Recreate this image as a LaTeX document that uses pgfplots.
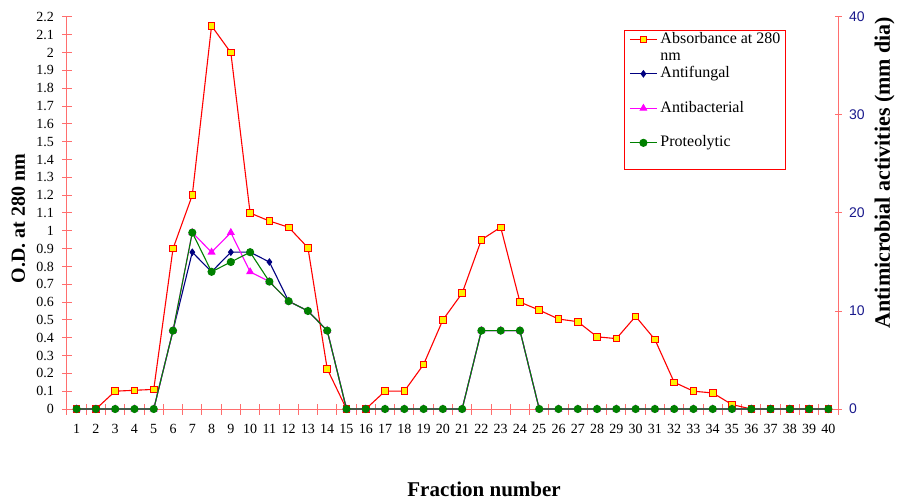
\documentclass[border=0pt]{standalone}
\usepackage{fontspec}
\setmainfont{Liberation Serif}
\newfontfamily\arialfont{Liberation Sans}
\usepackage{pgfplots}
\usepackage{pgfplotstable}
\pgfplotsset{compat=1.18}
\definecolor{axred}{RGB}{255,110,110}
\definecolor{navyb}{RGB}{0,0,128}
\definecolor{pgreen}{RGB}{0,128,0}
\definecolor{mag}{RGB}{255,0,255}
\definecolor{ticknavy}{RGB}{25,25,140}

\pgfplotstableread{
x abs fung bact prot
1 0 0 0 0
2 0 0 0 0
3 0.10 0 0 0
4 0.105 0 0 0
5 0.11 0 0 0
6 0.90 8 8 8
7 1.20 16 18 18
8 2.15 14 16 14
9 2.00 16 18 15
10 1.10 16 14 16
11 1.055 15 13 13
12 1.02 11 11 11
13 0.905 10 10 10
14 0.225 8 8 8
15 0 0 0 0
16 0 0 0 0
17 0.10 0 0 0
18 0.10 0 0 0
19 0.25 0 0 0
20 0.50 0 0 0
21 0.65 0 0 0
22 0.95 8 8 8
23 1.02 8 8 8
24 0.60 8 8 8
25 0.555 0 0 0
26 0.505 0 0 0
27 0.49 0 0 0
28 0.405 0 0 0
29 0.395 0 0 0
30 0.52 0 0 0
31 0.39 0 0 0
32 0.15 0 0 0
33 0.10 0 0 0
34 0.09 0 0 0
35 0.025 0 0 0
36 0 0 0 0
37 0 0 0 0
38 0 0 0 0
39 0 0 0 0
40 0 0 0 0
}\datatable

\pgfplotsset{
  absstyle/.style={color=red, line width=1.1pt, mark=square*, mark size=3.3pt, mark options={fill=yellow, draw=red, line width=0.9pt}},
  fungstyle/.style={color=navyb, line width=1.1pt, mark=diamond*, mark size=3pt, mark options={fill=navyb, draw=navyb}},
  bactstyle/.style={color=mag, line width=1.1pt, mark=triangle*, mark size=3.6pt, mark options={fill=mag, draw=mag}},
  protstyle/.style={color=pgreen, line width=1.1pt, mark=*, mark size=3.5pt, mark options={fill=pgreen, draw=pgreen}},
}

\begin{document}
\begin{tikzpicture}
\begin{axis}[
  name=ax1,
  scale only axis, width=771pt, height=392pt,
  xmin=0.5, xmax=40.5, ymin=0, ymax=2.2,
  axis x line=bottom, axis y line=left,
  axis line style={draw=axred, line width=1pt, -},
  every outer x axis line/.append style={-},
  every outer y axis line/.append style={-},
  xtick={1,...,40},
  xtick style={draw=none},
  minor xtick={0.5,1.5,...,40.5},
  minor x tick style={draw=axred, line width=1pt},
  minor tick length=11pt,
  ytick={0,0.1,0.2,0.3,0.4,0.5,0.6,0.7,0.8,0.9,1,1.1,1.2,1.3,1.4,1.5,1.6,1.7,1.8,1.9,2,2.1,2.2},
  y tick style={draw=axred, line width=1pt},
  major tick length=9pt,
  tick align=center,
  /pgf/number format/assume math mode=true,
  tick label style={font=\fontsize{14}{16}\selectfont},
  yticklabel style={xshift=-5pt},
  xticklabel style={yshift=-7pt},
  xlabel={Fraction number},
  xlabel style={at={(axis description cs:0.541,-0.2237)}, anchor=base, font=\bfseries\fontsize{21}{24}\selectfont},
  ylabel={O.D. at 280 nm},
  ylabel style={at={(axis description cs:-0.0545,0.486)}, anchor=base, rotate=0, font=\bfseries\fontsize{20}{24}\selectfont},
  clip=false,
]
\addplot[absstyle] table[x=x, y=abs] {\datatable};
\end{axis}
\begin{axis}[
  scale only axis, width=771pt, height=392pt,
  xmin=0.5, xmax=40.5, ymin=0, ymax=40,
  axis x line=none, axis y line=right,
  axis line style={draw=axred, line width=1pt, -},
  every outer y axis line/.append style={-},
  xtick=\empty,
  ytick={0,10,20,30,40},
  y tick style={draw=axred, line width=1pt},
  major tick length=7pt,
  tick align=center,
  /pgf/number format/assume math mode=true,
  yticklabel style={font=\arialfont\fontsize{14}{16}\selectfont, text=ticknavy, xshift=4pt},
  ylabel={Antimicrobial activities (mm dia)},
  ylabel style={at={(axis description cs:1.0674,0.603)}, anchor=base, font=\bfseries\fontsize{22}{24}\selectfont},
  clip=false,
  legend image code/.code={\draw[mark repeat=2,mark phase=2] plot coordinates {(0pt,0pt) (13.5pt,0pt) (27pt,0pt)};},
  legend cell align=left,
  legend style={at={(0.7224,0.967)}, anchor=north west, draw=red, line width=0.8pt, fill=white,
    inner xsep=5pt, inner ysep=1pt, row sep=1.25pt,
    font=\fontsize{16}{18}\selectfont,
    nodes={inner sep=0pt, text height=12pt, text depth=4pt},
    /tikz/every odd column/.append style={column sep=3pt}},
]
\addlegendimage{absstyle}
\addlegendentry{Absorbance at 280}
\addlegendimage{empty legend}
\addlegendentry{nm}
\addplot[fungstyle] table[x=x, y=fung] {\datatable};
\addlegendentry{Antifungal}
\addlegendimage{empty legend}
\addlegendentry{}
\addplot[bactstyle] table[x=x, y=bact] {\datatable};
\addlegendentry{Antibacterial}
\addlegendimage{empty legend}
\addlegendentry{}
\addplot[protstyle] table[x=x, y=prot] {\datatable};
\addlegendentry{Proteolytic}
\addlegendimage{empty legend}
\addlegendentry{}
\end{axis}
\pgfresetboundingbox
\path ([xshift=-67pt,yshift=-91pt]ax1.south west) rectangle ([xshift=59pt,yshift=17pt]ax1.north east);
\end{tikzpicture}
\end{document}
